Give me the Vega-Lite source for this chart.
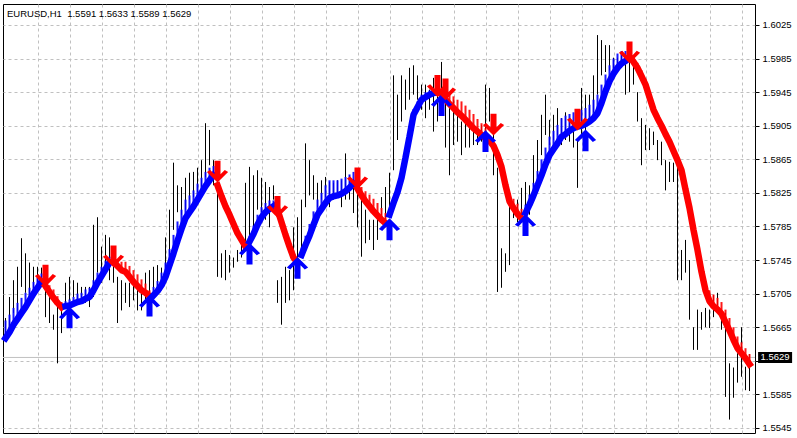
{
"$schema":"https://vega.github.io/schema/vega-lite/v6.json",
"width":752,"height":429,
"autosize":{"type":"none"},
"padding":{"left":3,"top":4,"right":42,"bottom":5},
"background":"#ffffff",
"title":{"text":"EURUSD,H1\u00a0 1.5591 1.5633 1.5589 1.5629","anchor":"start","frame":"group","orient":"top","offset":-14,"dx":4,"font":"Liberation Sans","fontSize":9.5,"fontWeight":"normal","color":"#000000"},
"datasets":{
"bars":[
{"k":0,"h":1.5676,"l":1.5652,"v":1.5652,"w":1.5673,"c":"b","s":0},
{"k":1,"h":1.5701,"l":1.5658,"v":1.5659,"w":1.5680,"c":"b","s":0},
{"k":2,"h":1.5721,"l":1.5682,"v":1.5668,"w":1.5688,"c":"b","s":0},
{"k":3,"h":1.5737,"l":1.5685,"v":1.5675,"w":1.5694,"c":"b","s":0},
{"k":4,"h":1.5771,"l":1.5713,"v":1.5682,"w":1.5700,"c":"b","s":0},
{"k":5,"h":1.5753,"l":1.5706,"v":1.5689,"w":1.5706,"c":"b","s":0},
{"k":6,"h":1.5742,"l":1.5701,"v":1.5697,"w":1.5712,"c":"b","s":0},
{"k":7,"h":1.5737,"l":1.5709,"v":1.5705,"w":1.5719,"c":"b","s":0},
{"k":8,"h":1.5737,"l":1.5718,"v":1.5712,"w":1.5724,"c":"b","s":0},
{"k":9,"h":1.5736,"l":1.5713,"v":1.5719,"w":1.5729,"c":"b","s":0},
{"k":10,"h":1.5725,"l":1.5677,"v":1.5714,"w":1.5721,"c":"r","s":1},
{"k":11,"h":1.5706,"l":1.5670,"v":1.5707,"w":1.5715,"c":"r","s":1},
{"k":12,"h":1.5680,"l":1.5662,"v":1.5700,"w":1.5710,"c":"r","s":1},
{"k":13,"h":1.5697,"l":1.5622,"v":1.5694,"w":1.5702,"c":"r","s":1},
{"k":14,"h":1.5685,"l":1.5658,"v":1.5689,"w":1.5695,"c":"r","s":1},
{"k":15,"h":1.5718,"l":1.5689,"v":1.5690,"w":1.5696,"c":"b","s":2},
{"k":16,"h":1.5725,"l":1.5697,"v":1.5691,"w":1.5698,"c":"b","s":2},
{"k":17,"h":1.5721,"l":1.5701,"v":1.5693,"w":1.5701,"c":"b","s":2},
{"k":18,"h":1.5718,"l":1.5697,"v":1.5695,"w":1.5705,"c":"b","s":2},
{"k":19,"h":1.5713,"l":1.5697,"v":1.5696,"w":1.5706,"c":"b","s":2},
{"k":20,"h":1.5713,"l":1.5694,"v":1.5699,"w":1.5710,"c":"b","s":2},
{"k":21,"h":1.5713,"l":1.5689,"v":1.5701,"w":1.5712,"c":"b","s":2},
{"k":22,"h":1.5787,"l":1.5701,"v":1.5709,"w":1.5721,"c":"b","s":2},
{"k":23,"h":1.5796,"l":1.5730,"v":1.5718,"w":1.5730,"c":"b","s":2},
{"k":24,"h":1.5761,"l":1.5718,"v":1.5726,"w":1.5737,"c":"b","s":2},
{"k":25,"h":1.5775,"l":1.5733,"v":1.5734,"w":1.5744,"c":"b","s":2},
{"k":26,"h":1.5772,"l":1.5721,"v":1.5742,"w":1.5749,"c":"b","s":2},
{"k":27,"h":1.5761,"l":1.5718,"v":1.5743,"w":1.5748,"c":"r","s":3},
{"k":28,"h":1.5725,"l":1.5670,"v":1.5738,"w":1.5745,"c":"r","s":3},
{"k":29,"h":1.5721,"l":1.5685,"v":1.5733,"w":1.5743,"c":"r","s":3},
{"k":30,"h":1.5718,"l":1.5694,"v":1.5731,"w":1.5743,"c":"r","s":3},
{"k":31,"h":1.5718,"l":1.5689,"v":1.5725,"w":1.5738,"c":"r","s":3},
{"k":32,"h":1.5721,"l":1.5697,"v":1.5719,"w":1.5733,"c":"r","s":3},
{"k":33,"h":1.5713,"l":1.5685,"v":1.5714,"w":1.5728,"c":"r","s":3},
{"k":34,"h":1.5715,"l":1.5685,"v":1.5709,"w":1.5722,"c":"r","s":3},
{"k":35,"h":1.5730,"l":1.5694,"v":1.5706,"w":1.5717,"c":"r","s":3},
{"k":36,"h":1.5733,"l":1.5701,"v":1.5702,"w":1.5709,"c":"r","s":3},
{"k":37,"h":1.5737,"l":1.5709,"v":1.5703,"w":1.5713,"c":"b","s":4},
{"k":38,"h":1.5739,"l":1.5706,"v":1.5708,"w":1.5720,"c":"b","s":4},
{"k":39,"h":1.5736,"l":1.5709,"v":1.5715,"w":1.5730,"c":"b","s":4},
{"k":40,"h":1.5772,"l":1.5721,"v":1.5725,"w":1.5742,"c":"b","s":4},
{"k":41,"h":1.5805,"l":1.5739,"v":1.5739,"w":1.5758,"c":"b","s":4},
{"k":42,"h":1.5861,"l":1.5781,"v":1.5753,"w":1.5775,"c":"b","s":4},
{"k":43,"h":1.5834,"l":1.5802,"v":1.5768,"w":1.5791,"c":"b","s":4},
{"k":44,"h":1.5832,"l":1.5799,"v":1.5782,"w":1.5805,"c":"b","s":4},
{"k":45,"h":1.5843,"l":1.5805,"v":1.5795,"w":1.5817,"c":"b","s":4},
{"k":46,"h":1.5849,"l":1.5817,"v":1.5802,"w":1.5822,"c":"b","s":4},
{"k":47,"h":1.5850,"l":1.5820,"v":1.5809,"w":1.5828,"c":"b","s":4},
{"k":48,"h":1.5855,"l":1.5826,"v":1.5817,"w":1.5836,"c":"b","s":4},
{"k":49,"h":1.5864,"l":1.5822,"v":1.5825,"w":1.5843,"c":"b","s":4},
{"k":50,"h":1.5908,"l":1.5844,"v":1.5833,"w":1.5850,"c":"b","s":4},
{"k":51,"h":1.5900,"l":1.5858,"v":1.5840,"w":1.5855,"c":"b","s":4},
{"k":52,"h":1.5864,"l":1.5834,"v":1.5846,"w":1.5857,"c":"b","s":4},
{"k":53,"h":1.5832,"l":1.5725,"v":1.5834,"w":1.5838,"c":"r","s":5},
{"k":54,"h":1.5753,"l":1.5724,"v":1.5821,"w":1.5825,"c":"r","s":5},
{"k":55,"h":1.5757,"l":1.5721,"v":1.5809,"w":1.5813,"c":"r","s":5},
{"k":56,"h":1.5751,"l":1.5730,"v":1.5799,"w":1.5803,"c":"r","s":5},
{"k":57,"h":1.5748,"l":1.5736,"v":1.5788,"w":1.5792,"c":"r","s":5},
{"k":58,"h":1.5757,"l":1.5743,"v":1.5777,"w":1.5781,"c":"r","s":5},
{"k":59,"h":1.5763,"l":1.5748,"v":1.5769,"w":1.5773,"c":"r","s":5},
{"k":60,"h":1.5837,"l":1.5763,"v":1.5761,"w":1.5765,"c":"r","s":5},
{"k":61,"h":1.5856,"l":1.5769,"v":1.5767,"w":1.5774,"c":"b","s":6},
{"k":62,"h":1.5846,"l":1.5783,"v":1.5776,"w":1.5786,"c":"b","s":6},
{"k":63,"h":1.5852,"l":1.5805,"v":1.5787,"w":1.5799,"c":"b","s":6},
{"k":64,"h":1.5843,"l":1.5802,"v":1.5796,"w":1.5808,"c":"b","s":6},
{"k":65,"h":1.5838,"l":1.5793,"v":1.5802,"w":1.5813,"c":"b","s":6},
{"k":66,"h":1.5832,"l":1.5784,"v":1.5806,"w":1.5816,"c":"b","s":6},
{"k":67,"h":1.5834,"l":1.5817,"v":1.5809,"w":1.5816,"c":"b","s":6},
{"k":68,"h":1.5721,"l":1.5694,"v":1.5805,"w":1.5807,"c":"r","s":7},
{"k":69,"h":1.5725,"l":1.5668,"v":1.5790,"w":1.5794,"c":"r","s":7},
{"k":70,"h":1.5737,"l":1.5694,"v":1.5775,"w":1.5779,"c":"r","s":7},
{"k":71,"h":1.5733,"l":1.5697,"v":1.5761,"w":1.5765,"c":"r","s":7},
{"k":72,"h":1.5784,"l":1.5709,"v":1.5748,"w":1.5752,"c":"r","s":7},
{"k":73,"h":1.5796,"l":1.5737,"v":1.5742,"w":1.5744,"c":"r","s":7},
{"k":74,"h":1.5817,"l":1.5753,"v":1.5751,"w":1.5760,"c":"b","s":8},
{"k":75,"h":1.5884,"l":1.5808,"v":1.5763,"w":1.5774,"c":"b","s":8},
{"k":76,"h":1.5864,"l":1.5822,"v":1.5774,"w":1.5788,"c":"b","s":8},
{"k":77,"h":1.5846,"l":1.5817,"v":1.5787,"w":1.5803,"c":"b","s":8},
{"k":78,"h":1.5837,"l":1.5808,"v":1.5799,"w":1.5817,"c":"b","s":8},
{"k":79,"h":1.5840,"l":1.5817,"v":1.5806,"w":1.5825,"c":"b","s":8},
{"k":80,"h":1.5844,"l":1.5820,"v":1.5813,"w":1.5834,"c":"b","s":8},
{"k":81,"h":1.5838,"l":1.5808,"v":1.5819,"w":1.5840,"c":"b","s":8},
{"k":82,"h":1.5837,"l":1.5817,"v":1.5821,"w":1.5840,"c":"b","s":8},
{"k":83,"h":1.5840,"l":1.5820,"v":1.5822,"w":1.5840,"c":"b","s":8},
{"k":84,"h":1.5840,"l":1.5808,"v":1.5824,"w":1.5842,"c":"b","s":8},
{"k":85,"h":1.5872,"l":1.5817,"v":1.5827,"w":1.5844,"c":"b","s":8},
{"k":86,"h":1.5846,"l":1.5817,"v":1.5831,"w":1.5847,"c":"b","s":8},
{"k":87,"h":1.5832,"l":1.5801,"v":1.5836,"w":1.5850,"c":"b","s":8},
{"k":88,"h":1.5825,"l":1.5784,"v":1.5830,"w":1.5836,"c":"r","s":9},
{"k":89,"h":1.5817,"l":1.5749,"v":1.5822,"w":1.5832,"c":"r","s":9},
{"k":90,"h":1.5805,"l":1.5765,"v":1.5815,"w":1.5827,"c":"r","s":9},
{"k":91,"h":1.5793,"l":1.5769,"v":1.5809,"w":1.5823,"c":"r","s":9},
{"k":92,"h":1.5793,"l":1.5757,"v":1.5803,"w":1.5818,"c":"r","s":9},
{"k":93,"h":1.5799,"l":1.5769,"v":1.5798,"w":1.5813,"c":"r","s":9},
{"k":94,"h":1.5820,"l":1.5789,"v":1.5793,"w":1.5807,"c":"r","s":9},
{"k":95,"h":1.5832,"l":1.5793,"v":1.5789,"w":1.5801,"c":"r","s":9},
{"k":96,"h":1.5849,"l":1.5808,"v":1.5799,"w":1.5803,"c":"b","s":10},
{"k":97,"h":1.5965,"l":1.5852,"v":1.5813,"w":1.5817,"c":"b","s":10},
{"k":98,"h":1.5942,"l":1.5888,"v":1.5826,"w":1.5831,"c":"b","s":10},
{"k":99,"h":1.5965,"l":1.5910,"v":1.5843,"w":1.5848,"c":"b","s":10},
{"k":100,"h":1.5960,"l":1.5924,"v":1.5867,"w":1.5873,"c":"b","s":10},
{"k":101,"h":1.5974,"l":1.5936,"v":1.5892,"w":1.5899,"c":"b","s":10},
{"k":102,"h":1.5977,"l":1.5942,"v":1.5918,"w":1.5925,"c":"b","s":10},
{"k":103,"h":1.5965,"l":1.5936,"v":1.5927,"w":1.5934,"c":"b","s":10},
{"k":104,"h":1.5954,"l":1.5924,"v":1.5936,"w":1.5942,"c":"b","s":10},
{"k":105,"h":1.5954,"l":1.5914,"v":1.5939,"w":1.5945,"c":"b","s":10},
{"k":106,"h":1.5948,"l":1.5924,"v":1.5942,"w":1.5947,"c":"b","s":10},
{"k":107,"h":1.5962,"l":1.5898,"v":1.5944,"w":1.5949,"c":"b","s":10},
{"k":108,"h":1.5950,"l":1.5910,"v":1.5945,"w":1.5949,"c":"b","s":10},
{"k":109,"h":1.5981,"l":1.5921,"v":1.5942,"w":1.5948,"c":"r","s":11},
{"k":110,"h":1.5936,"l":1.5879,"v":1.5936,"w":1.5946,"c":"r","s":11},
{"k":111,"h":1.5930,"l":1.5846,"v":1.5931,"w":1.5943,"c":"r","s":11},
{"k":112,"h":1.5936,"l":1.5882,"v":1.5926,"w":1.5940,"c":"r","s":11},
{"k":113,"h":1.5921,"l":1.5886,"v":1.5921,"w":1.5936,"c":"r","s":11},
{"k":114,"h":1.5910,"l":1.5870,"v":1.5917,"w":1.5934,"c":"r","s":11},
{"k":115,"h":1.5910,"l":1.5879,"v":1.5912,"w":1.5929,"c":"r","s":11},
{"k":116,"h":1.5910,"l":1.5879,"v":1.5907,"w":1.5924,"c":"r","s":11},
{"k":117,"h":1.5906,"l":1.5882,"v":1.5902,"w":1.5919,"c":"r","s":11},
{"k":118,"h":1.5902,"l":1.5882,"v":1.5898,"w":1.5913,"c":"r","s":11},
{"k":119,"h":1.5906,"l":1.5886,"v":1.5894,"w":1.5908,"c":"r","s":11},
{"k":120,"h":1.5954,"l":1.5894,"v":1.5890,"w":1.5902,"c":"r","s":11},
{"k":121,"h":1.5950,"l":1.5910,"v":1.5887,"w":1.5894,"c":"r","s":11},
{"k":122,"h":1.5918,"l":1.5846,"v":1.5881,"w":1.5886,"c":"r","s":11},
{"k":123,"h":1.5855,"l":1.5707,"v":1.5870,"w":1.5875,"c":"r","s":11},
{"k":124,"h":1.5759,"l":1.5712,"v":1.5856,"w":1.5861,"c":"r","s":11},
{"k":125,"h":1.5753,"l":1.5731,"v":1.5834,"w":1.5841,"c":"r","s":11},
{"k":126,"h":1.5811,"l":1.5739,"v":1.5815,"w":1.5825,"c":"r","s":11},
{"k":127,"h":1.5814,"l":1.5795,"v":1.5807,"w":1.5818,"c":"r","s":11},
{"k":128,"h":1.5817,"l":1.5790,"v":1.5800,"w":1.5812,"c":"r","s":11},
{"k":129,"h":1.5831,"l":1.5795,"v":1.5795,"w":1.5806,"c":"r","s":11},
{"k":130,"h":1.5838,"l":1.5799,"v":1.5801,"w":1.5811,"c":"b","s":12},
{"k":131,"h":1.5834,"l":1.5799,"v":1.5811,"w":1.5823,"c":"b","s":12},
{"k":132,"h":1.5870,"l":1.5817,"v":1.5822,"w":1.5837,"c":"b","s":12},
{"k":133,"h":1.5888,"l":1.5840,"v":1.5834,"w":1.5851,"c":"b","s":12},
{"k":134,"h":1.5918,"l":1.5870,"v":1.5846,"w":1.5865,"c":"b","s":12},
{"k":135,"h":1.5942,"l":1.5894,"v":1.5859,"w":1.5879,"c":"b","s":12},
{"k":136,"h":1.5912,"l":1.5882,"v":1.5870,"w":1.5892,"c":"b","s":12},
{"k":137,"h":1.5918,"l":1.5888,"v":1.5877,"w":1.5899,"c":"b","s":12},
{"k":138,"h":1.5926,"l":1.5894,"v":1.5884,"w":1.5906,"c":"b","s":12},
{"k":139,"h":1.5914,"l":1.5882,"v":1.5892,"w":1.5914,"c":"b","s":12},
{"k":140,"h":1.5921,"l":1.5888,"v":1.5895,"w":1.5917,"c":"b","s":12},
{"k":141,"h":1.5914,"l":1.5886,"v":1.5899,"w":1.5919,"c":"b","s":12},
{"k":142,"h":1.5906,"l":1.5879,"v":1.5902,"w":1.5921,"c":"b","s":12},
{"k":143,"h":1.5888,"l":1.5831,"v":1.5904,"w":1.5923,"c":"b","s":12},
{"k":144,"h":1.5950,"l":1.5890,"v":1.5905,"w":1.5924,"c":"b","s":12},
{"k":145,"h":1.5942,"l":1.5882,"v":1.5907,"w":1.5926,"c":"b","s":12},
{"k":146,"h":1.5942,"l":1.5910,"v":1.5910,"w":1.5930,"c":"b","s":12},
{"k":147,"h":1.5965,"l":1.5921,"v":1.5914,"w":1.5936,"c":"b","s":12},
{"k":148,"h":1.6013,"l":1.5942,"v":1.5920,"w":1.5942,"c":"b","s":12},
{"k":149,"h":1.6007,"l":1.5965,"v":1.5932,"w":1.5954,"c":"b","s":12},
{"k":150,"h":1.6001,"l":1.5969,"v":1.5946,"w":1.5966,"c":"b","s":12},
{"k":151,"h":1.6001,"l":1.5971,"v":1.5958,"w":1.5977,"c":"b","s":12},
{"k":152,"h":1.5986,"l":1.5969,"v":1.5967,"w":1.5985,"c":"b","s":12},
{"k":153,"h":1.5986,"l":1.5974,"v":1.5974,"w":1.5991,"c":"b","s":12},
{"k":154,"h":1.5989,"l":1.5974,"v":1.5979,"w":1.5994,"c":"b","s":12},
{"k":155,"h":1.5986,"l":1.5942,"v":1.5982,"w":1.5994,"c":"b","s":12},
{"k":156,"h":1.5981,"l":1.5945,"v":1.5986,"w":1.5995,"c":"b","s":12},
{"k":157,"h":1.5977,"l":1.5954,"v":1.5981,"w":1.5985,"c":"r","s":13},
{"k":158,"h":1.5945,"l":1.5910,"v":1.5974,"w":1.5980,"c":"r","s":13},
{"k":159,"h":1.5914,"l":1.5858,"v":1.5964,"w":1.5971,"c":"r","s":13},
{"k":160,"h":1.5906,"l":1.5876,"v":1.5954,"w":1.5961,"c":"r","s":13},
{"k":161,"h":1.5902,"l":1.5876,"v":1.5939,"w":1.5945,"c":"r","s":13},
{"k":162,"h":1.5898,"l":1.5882,"v":1.5924,"w":1.5928,"c":"r","s":13},
{"k":163,"h":1.5888,"l":1.5864,"v":1.5914,"w":1.5916,"c":"r","s":13},
{"k":164,"h":1.5886,"l":1.5858,"v":1.5905,"w":1.5905,"c":"r","s":13},
{"k":165,"h":1.5864,"l":1.5828,"v":1.5895,"w":1.5895,"c":"r","s":13},
{"k":166,"h":1.5862,"l":1.5838,"v":1.5886,"w":1.5886,"c":"r","s":13},
{"k":167,"h":1.5861,"l":1.5838,"v":1.5875,"w":1.5875,"c":"r","s":13},
{"k":168,"h":1.5864,"l":1.5721,"v":1.5864,"w":1.5864,"c":"r","s":13},
{"k":169,"h":1.5757,"l":1.5721,"v":1.5852,"w":1.5852,"c":"r","s":13},
{"k":170,"h":1.5769,"l":1.5730,"v":1.5829,"w":1.5829,"c":"r","s":13},
{"k":171,"h":1.5745,"l":1.5674,"v":1.5807,"w":1.5807,"c":"r","s":13},
{"k":172,"h":1.5665,"l":1.5638,"v":1.5781,"w":1.5781,"c":"r","s":13},
{"k":173,"h":1.5686,"l":1.5638,"v":1.5757,"w":1.5761,"c":"r","s":13},
{"k":174,"h":1.5683,"l":1.5662,"v":1.5731,"w":1.5738,"c":"r","s":13},
{"k":175,"h":1.5688,"l":1.5665,"v":1.5709,"w":1.5720,"c":"r","s":13},
{"k":176,"h":1.5686,"l":1.5664,"v":1.5696,"w":1.5709,"c":"r","s":13},
{"k":177,"h":1.5703,"l":1.5677,"v":1.5690,"w":1.5704,"c":"r","s":13},
{"k":178,"h":1.5706,"l":1.5686,"v":1.5686,"w":1.5700,"c":"r","s":13},
{"k":179,"h":1.5686,"l":1.5662,"v":1.5681,"w":1.5695,"c":"r","s":13},
{"k":180,"h":1.5682,"l":1.5582,"v":1.5671,"w":1.5686,"c":"r","s":13},
{"k":181,"h":1.5622,"l":1.5555,"v":1.5661,"w":1.5676,"c":"r","s":13},
{"k":182,"h":1.5617,"l":1.5581,"v":1.5650,"w":1.5665,"c":"r","s":13},
{"k":183,"h":1.5634,"l":1.5599,"v":1.5640,"w":1.5654,"c":"r","s":13},
{"k":184,"h":1.5665,"l":1.5606,"v":1.5634,"w":1.5647,"c":"r","s":13},
{"k":185,"h":1.5618,"l":1.5590,"v":1.5628,"w":1.5640,"c":"r","s":13},
{"k":186,"h":1.5633,"l":1.5589,"v":1.5621,"w":1.5633,"c":"r","s":13}
],
"dn":[{"k":10,"p":1.5726},{"k":27,"p":1.5749},{"k":53,"p":1.5850},{"k":68,"p":1.5808},{"k":88,"p":1.5842},{"k":108,"p":1.5952},{"k":110,"p":1.5948},{"k":122,"p":1.5906},{"k":143,"p":1.5912},{"k":156,"p":1.5992}],
"up":[{"k":16,"p":1.5677},{"k":36,"p":1.5691},{"k":61,"p":1.5753},{"k":73,"p":1.5736},{"k":96,"p":1.5782},{"k":109,"p":1.5930},{"k":120,"p":1.5887},{"k":130,"p":1.5787},{"k":145,"p":1.5888}],
"bid":[{"k":192.4,"p":1.5629,"t":"1.5629"}]
},
"encoding":{
 "x":{"field":"k","type":"quantitative","scale":{"domain":[-0.625,187.375],"nice":false,"zero":false},
  "axis":{"values":[8,16,24,32,40,48,56,64,72,80,88,96,104,112,120,128,136,144,152,160,168,176,184],"tickCount":40,"grid":true,"gridDash":[3,3],"gridColor":"#c0c0c0","gridOpacity":1,"labels":false,"ticks":false,"domain":false,"title":null}}
},
"layer":[
{"data":{"name":"bid"},"mark":{"type":"rule","color":"#c0c0c0","strokeWidth":1},
 "encoding":{"x":null,"y":{"field":"p","type":"quantitative","scale":{"domain":[1.5539,1.6050],"nice":false,"zero":false},
  "axis":{"orient":"right","values":[1.5545,1.5585,1.5625,1.5665,1.5705,1.5745,1.5785,1.5825,1.5865,1.5905,1.5945,1.5985,1.6025],"tickCount":30,"format":".4f","labelExpr":"abs(datum.value-1.5625)<0.00001 ? '' : datum.label","labelOverlap":false,"labelBound":false,"grid":true,"gridDash":[3,3],"gridColor":"#c0c0c0","gridOpacity":1,"domain":false,"ticks":true,"tickSize":4,"tickColor":"#000000","labelFont":"Liberation Sans","labelFontSize":9.5,"labelColor":"#000000","labelPadding":3,"title":null}}}},
{"data":{"name":"bars"},"mark":{"type":"rule","color":"#000000","strokeWidth":1},
 "encoding":{"y":{"field":"h","type":"quantitative","scale":{"domain":[1.5539,1.6050],"nice":false,"zero":false}},"y2":{"field":"l"}}},
{"data":{"name":"bars"},"mark":{"type":"rule","strokeWidth":2,"opacity":0.9},
 "encoding":{"y":{"field":"v","type":"quantitative","scale":{"domain":[1.5539,1.6050],"nice":false,"zero":false}},"y2":{"field":"w"},
  "color":{"field":"c","type":"nominal","scale":{"domain":["b","r"],"range":["#0000ff","#ff0000"]},"legend":null}}},
{"data":{"name":"bars"},"mark":{"type":"line","strokeWidth":6.5,"strokeCap":"square","strokeJoin":"bevel"},
 "encoding":{"y":{"field":"v","type":"quantitative","scale":{"domain":[1.5539,1.6050],"nice":false,"zero":false}},
  "color":{"field":"c","type":"nominal","scale":{"domain":["b","r"],"range":["#0000ff","#ff0000"]},"legend":null},
  "detail":{"field":"s","type":"nominal"},"order":{"field":"k","type":"quantitative"}}},
{"data":{"name":"up"},"mark":{"type":"point","shape":"M-0.27,1L0.27,1L0.27,-0.22L0.65,0.18L0.95,0L0,-0.95L-0.95,0L-0.65,0.18L-0.27,-0.22Z","size":500,"filled":true,"color":"#0000ff","opacity":1,"strokeWidth":0},
 "encoding":{"y":{"field":"p","type":"quantitative","scale":{"domain":[1.5539,1.6050],"nice":false,"zero":false}}}},
{"data":{"name":"dn"},"mark":{"type":"point","shape":"M-0.27,-1L0.27,-1L0.27,0.22L0.65,-0.18L0.95,0L0,0.95L-0.95,0L-0.65,-0.18L-0.27,0.22Z","size":500,"filled":true,"color":"#ff0000","opacity":1,"strokeWidth":0},
 "encoding":{"y":{"field":"p","type":"quantitative","scale":{"domain":[1.5539,1.6050],"nice":false,"zero":false}}}},
{"data":{"name":"bid"},"mark":{"type":"point","shape":"M-1,-0.32L1,-0.32L1,0.32L-1,0.32Z","size":1156,"filled":true,"color":"#000000","opacity":1,"strokeWidth":0,"clip":false},
 "encoding":{"y":{"field":"p","type":"quantitative","scale":{"domain":[1.5539,1.6050],"nice":false,"zero":false}}}},
{"data":{"name":"bid"},"mark":{"type":"text","color":"#ffffff","font":"Liberation Sans","fontSize":9.5,"align":"center","baseline":"middle","clip":false},
 "encoding":{"y":{"field":"p","type":"quantitative","scale":{"domain":[1.5539,1.6050],"nice":false,"zero":false}},"text":{"field":"t"}}}
],
"config":{"view":{"stroke":"#000000","strokeWidth":1},"axis":{"title":null,"labelOverlap":false}}
}
